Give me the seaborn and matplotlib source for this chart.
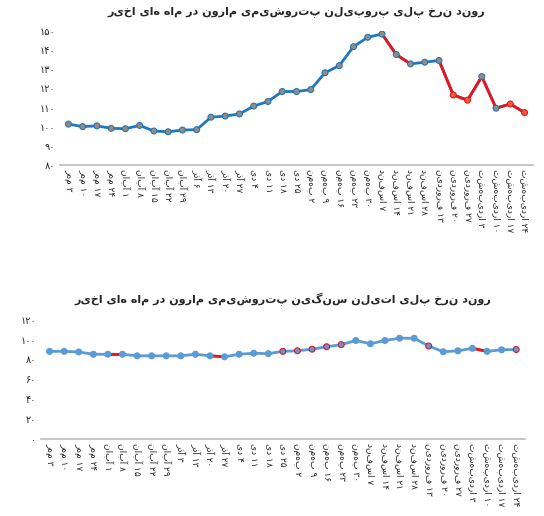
import re
import matplotlib
matplotlib.use("Agg")
import matplotlib.pyplot as plt
from matplotlib.ticker import FuncFormatter
import seaborn as sns

# data
dates_pp = ["۳ مهر", "۱۰ مهر", "۱۷ مهر", "۲۴ مهر", "۱ آبان", "۸ آبان", "۱۵ آبان", "۲۲ آبان", "۲۹ آبان",
            "۶ آذر", "۱۳ آذر", "۲۰ آذر", "۲۷ آذر", "۴ دی", "۱۱ دی", "۱۸ دی", "۲۵ دی", "۲ بهمن", "۹ بهمن",
            "۱۶ بهمن", "۲۳ بهمن", "۳۰ بهمن", "۷ اسفند", "۱۴ اسفند", "۲۱ اسفند", "۲۸ اسفند", "۱۳ فروردین",
            "۲۰ فروردین", "۲۷ فروردین", "۳ اردیبهشت", "۱۰ اردیبهشت", "۱۷ اردیبهشت", "۲۴ اردیبهشت"]
dates_pe = dates_pp[:9] + ["۳ آذر"] + dates_pp[10:]
price_pp = [101.4, 100.1, 100.5, 99.2, 99.0, 100.7, 97.8, 97.4, 98.3, 98.5, 105.0, 105.6, 106.7,
            110.8, 113.2, 118.4, 118.4, 119.4, 128.2, 131.9, 141.8, 146.7, 148.4, 137.7, 132.8,
            133.7, 134.6, 116.6, 113.9, 126.2, 109.7, 111.9, 107.4]
price_pe = [88.2, 88.2, 87.6, 85.3, 85.3, 85.3, 83.7, 83.7, 83.7, 83.7, 85.3, 83.7, 82.7, 85.3,
            86.3, 85.9, 88.2, 88.8, 90.4, 92.9, 95.0, 99.2, 95.9, 99.2, 101.5, 101.5, 93.6, 87.8,
            88.8, 91.3, 88.2, 89.8, 90.1]
red_seg_pp = [22, 23, 26, 27, 28, 29, 30, 31]
red_seg_pe = [4, 11, 29]
red_pts_pp = [27, 28, 31, 32]
red_edge_pe = [16, 17, 18, 19, 20, 26, 32]

title_pp = "روند نرخ پلی پروپیلن پتروشیمی مارون در ماه های اخیر"
title_pe = "روند نرخ پلی اتیلن سنگین پتروشیمی مارون در ماه های اخیر"

FA = str.maketrans("0123456789", "۰۱۲۳۴۵۶۷۸۹")


def rtl(s):
    # no shaping engine: reverse word order and letters, keep digit runs
    words = s.split(" ")[::-1]
    out = []
    for w in words:
        if re.fullmatch(r"[۰-۹0-9]+", w):
            out.append(w)
        else:
            out.append(w[::-1])
    return " ".join(out)


sns.set_theme(style="white")
plt.rcParams["font.family"] = ["DejaVu Sans"]

fig = plt.figure(figsize=(5.44, 5.16), dpi=100)
ax1 = fig.add_axes([0.11, 0.68, 0.87, 0.26])
ax2 = fig.add_axes([0.075, 0.15, 0.89, 0.23])


def draw(ax, labels, vals, line_c, red_seg, title, ylim, step):
    x = list(range(len(vals)))
    sns.lineplot(x=x, y=vals, ax=ax, color=line_c, lw=2, zorder=2)
    for i in red_seg:
        ax.plot([i, i + 1], [vals[i], vals[i + 1]], color="#e8141b", lw=2, zorder=3)
    ax.set_ylim(*ylim)
    ax.set_yticks(range(ylim[0], ylim[1] + 1, step))
    ax.yaxis.set_major_formatter(FuncFormatter(lambda v, p: str(int(v)).translate(FA)))
    ax.set_xlim(-0.6, len(vals) - 0.4)
    ax.set_xticks(x)
    ax.set_xticklabels([rtl(l) for l in labels], rotation=-90, va="top", ha="center", fontsize=6.5)
    ax.tick_params(axis="y", labelsize=7, length=0)
    ax.tick_params(axis="x", length=0, pad=3)
    for s in ["top", "right", "left"]:
        ax.spines[s].set_visible(False)
    ax.spines["bottom"].set_color("#bfbfbf")
    ax.set_title(rtl(title), fontsize=8, fontweight="bold", pad=12)
    return x


x1 = draw(ax1, dates_pp, price_pp, "#1f77c0", red_seg_pp, title_pp, (80, 150), 10)
fc1 = ["#e8603c" if i in red_pts_pp else "#9b8a7a" for i in x1]
ec1 = ["#e8141b" if i in red_pts_pp else "#1f77c0" for i in x1]
ax1.scatter(x1, price_pp, s=18, c=fc1, edgecolors=ec1, linewidths=0.8, zorder=4)

x2 = draw(ax2, dates_pe, price_pe, "#5b9bd5", red_seg_pe, title_pe, (0, 120), 20)
ec2 = ["#e8141b" if i in red_edge_pe else "#5b9bd5" for i in x2]
ax2.scatter(x2, price_pe, s=18, c="#5b9bd5", edgecolors=ec2, linewidths=0.8, zorder=4)

fig.savefig("out.png", dpi=100)
